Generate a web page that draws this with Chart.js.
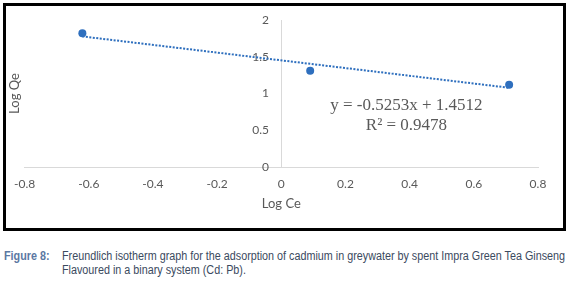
<!DOCTYPE html>
<html>
<head>
<meta charset="utf-8">
<script src="https://cdn.jsdelivr.net/npm/chart.js@4.4.1/dist/chart.umd.min.js"></script>
<style>
  body { margin: 0; background: #fff; width: 570px; height: 281px; position: relative; overflow: hidden; }
  #box { position: absolute; left: 3px; top: 3px; width: 557px; height: 222px; border: 3px solid #000; }
  #box canvas { display: block; }
  .cap { position: absolute; font-family: "Liberation Sans", Arial, sans-serif; font-size: 12px; line-height: 14px; color: #3b4a60; white-space: nowrap; }
  .cap span { display: inline-block; transform-origin: 0 0; }
  #figLabel { left: 4px; top: 249px; color: #5b78a3; font-weight: bold; }
  #line1 { left: 62px; top: 249px; }
  #line2 { left: 62px; top: 263px; }
</style>
</head>
<body>
<div id="box"><canvas id="chart" width="557" height="222"></canvas></div>
<div class="cap" id="figLabel"><span>Figure 8:</span></div>
<div class="cap" id="line1"><span>Freundlich isotherm graph for the adsorption of cadmium in greywater by spent Impra Green Tea Ginseng</span></div>
<div class="cap" id="line2"><span>Flavoured in a binary system (Cd: Pb).</span></div>
<script>
// measured points (Log Ce, Log Qe)
const logCe = [-0.62, 0.09, 0.71];
const logQe = [1.82, 1.31, 1.12];

// linear trendline
const trendX = [-0.62, 0.71];
const trendY = [1.777, 1.078];

const xTicks = { min: -0.8, max: 0.8, step: 0.2 };
const yTicks = { min: 0, max: 2, step: 0.5 };

const equationLines = ["y = -0.5253x + 1.4512", "R\u00B2 = 0.9478"];
const equationAt = { x: 0.39, y: [0.84, 0.57] };

const blue = "#2e6fbe";
const grey = "#595959";
const axisGrey = "#d9d9d9";

// squeeze the caption into a condensed look
const capScale = 503 / document.querySelector("#line1 span").offsetWidth;
document.querySelectorAll(".cap span").forEach(s => { s.style.transform = "scaleX(" + capScale + ")"; });

const equationLabel = {
    id: "equationLabel",
    afterDatasetsDraw(chart) {
        const ctx = chart.ctx;
        const xs = chart.scales.x, ys = chart.scales.y;
        ctx.save();
        ctx.font = '17px "Liberation Serif", "DejaVu Serif", serif';
        ctx.fillStyle = grey;
        ctx.textAlign = "center";
        ctx.textBaseline = "middle";
        equationLines.forEach((t, i) => {
            ctx.fillText(t, xs.getPixelForValue(equationAt.x), ys.getPixelForValue(equationAt.y[i]));
        });
        ctx.restore();
    }
};

const fmt = v => String(Math.round(v * 10) / 10);

new Chart(document.getElementById("chart"), {
    type: "scatter",
    data: {
        datasets: [
            {
                label: "Log Qe",
                data: logCe.map((x, i) => ({ x: x, y: logQe[i] })),
                backgroundColor: blue,
                borderColor: blue,
                pointRadius: 4,
                pointBorderWidth: 0,
                order: 1
            },
            {
                label: "Linear (Log Qe)",
                type: "line",
                data: trendX.map((x, i) => ({ x: x, y: trendY[i] })),
                borderColor: blue,
                borderWidth: 2,
                borderDash: [2, 1.5],
                pointRadius: 0,
                fill: false,
                order: 2
            }
        ]
    },
    options: {
        responsive: false,
        animation: false,
        layout: { padding: { left: 0, right: 25, top: 14, bottom: 10 } },
        plugins: { legend: { display: false }, tooltip: { enabled: false } },
        scales: {
            x: {
                type: "linear",
                min: xTicks.min,
                max: xTicks.max,
                ticks: {
                    stepSize: xTicks.step,
                    color: grey,
                    font: { family: "Lato", size: 12 },
                    padding: 0,
                    maxRotation: 0,
                    callback: fmt
                },
                // invisible tick marks keep the labels away from the axis
                grid: { display: true, drawOnChartArea: false, drawTicks: true, tickLength: 10, color: "rgba(0,0,0,0)" },
                border: { color: axisGrey, width: 1 },
                title: {
                    display: true,
                    text: "Log Ce",
                    color: grey,
                    font: { family: "Lato", size: 13 },
                    padding: { top: 5, bottom: 6 }
                }
            },
            y: {
                type: "linear",
                position: { x: 0 },
                min: yTicks.min,
                max: yTicks.max,
                ticks: {
                    stepSize: yTicks.step,
                    color: grey,
                    font: { family: "Lato", size: 12 },
                    padding: 0,
                    // labels of an axis placed at x = 0 sit right on the line, pad with spaces
                    callback: v => fmt(v) + "    "
                },
                grid: { display: true, drawOnChartArea: false, drawTicks: true, tickLength: 11, color: "rgba(0,0,0,0)" },
                border: { color: axisGrey, width: 1 }
            },
            yTitle: {
                type: "linear",
                axis: "y",
                position: "left",
                ticks: { display: false },
                grid: { display: false, drawTicks: false },
                border: { display: false },
                title: {
                    display: true,
                    text: "Log Qe",
                    color: grey,
                    font: { family: "Lato", size: 13 },
                    padding: { top: 1, bottom: 2 }
                }
            }
        }
    },
    plugins: [equationLabel]
});
</script>
</body>
</html>
